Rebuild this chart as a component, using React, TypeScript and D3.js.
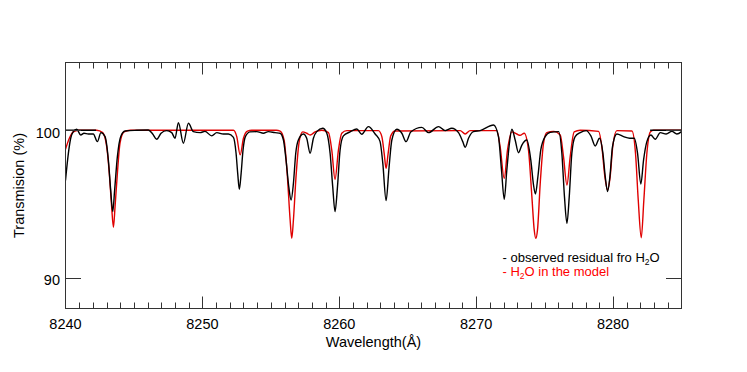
import React from "react";
import * as d3 from "d3";

// ---- data ----
const xDomain: [number, number] = [8240, 8285];
const yDomain: [number, number] = [87.91, 104.6];
const xMajorTicks = [8240, 8250, 8260, 8270, 8280];
const xMinorTicks = d3.range(8241, 8285, 1);
const yTicks = [90, 100];

// observed residual (black)
const observed: [number, number][] = [
  [8240.0, 96.6], [8240.21, 98.44], [8240.38, 99.46], [8240.57, 99.91], [8240.82, 100.07],
  [8241.11, 99.68], [8241.35, 99.8], [8241.67, 99.75], [8242.03, 99.75], [8242.33, 99.23],
  [8242.59, 99.84], [8242.89, 99.57], [8243.13, 97.99], [8243.3, 95.95], [8243.45, 94.48],
  [8243.59, 95.95], [8243.79, 98.21], [8244.03, 99.57], [8244.35, 99.95], [8245.2, 100.0],
  [8246.05, 100.02], [8246.37, 99.75], [8246.66, 99.39], [8246.98, 99.8], [8247.39, 99.98],
  [8247.76, 99.84], [8248.0, 99.46], [8248.25, 100.52], [8248.61, 99.12], [8248.98, 100.48],
  [8249.34, 99.91], [8249.83, 99.84], [8250.19, 99.93], [8250.68, 99.62], [8251.05, 99.84],
  [8251.53, 99.75], [8251.9, 99.75], [8252.27, 99.52], [8252.46, 98.44], [8252.58, 97.08],
  [8252.7, 95.99], [8252.83, 97.08], [8252.97, 98.67], [8253.14, 99.57], [8253.48, 99.89],
  [8253.97, 99.91], [8254.46, 99.8], [8254.82, 99.91], [8255.31, 99.84], [8255.68, 99.8],
  [8255.92, 99.34], [8256.11, 97.99], [8256.31, 96.18], [8256.48, 95.27], [8256.65, 96.4],
  [8256.82, 98.44], [8257.01, 99.34], [8257.38, 99.75], [8257.62, 99.46], [8257.87, 98.44],
  [8258.11, 99.46], [8258.35, 99.91], [8258.79, 100.14], [8259.09, 99.8], [8259.33, 98.44],
  [8259.52, 96.18], [8259.69, 94.48], [8259.87, 96.18], [8260.06, 98.67], [8260.3, 99.62],
  [8260.79, 99.89], [8261.28, 100.09], [8261.64, 99.73], [8262.13, 100.25], [8262.62, 99.75],
  [8262.98, 99.23], [8263.18, 97.76], [8263.42, 95.23], [8263.64, 97.53], [8263.84, 99.34],
  [8264.2, 100.07], [8264.57, 99.8], [8264.88, 99.23], [8265.22, 99.89], [8266.03, 100.2],
  [8266.52, 99.84], [8267.25, 100.25], [8267.73, 99.98], [8268.22, 100.14], [8268.71, 99.84],
  [8269.02, 99.23], [8269.2, 98.85], [8269.44, 99.46], [8269.8, 99.91], [8270.29, 99.98],
  [8271.27, 100.36], [8271.63, 99.57], [8271.85, 97.31], [8272.05, 95.32], [8272.24, 97.31],
  [8272.43, 99.12], [8272.61, 100.07], [8272.85, 99.34], [8273.09, 98.48], [8273.34, 99.0],
  [8273.7, 99.34], [8273.99, 97.99], [8274.19, 96.29], [8274.33, 95.68], [8274.51, 96.86],
  [8274.72, 98.67], [8275.04, 99.57], [8275.41, 99.86], [8276.02, 99.91], [8276.26, 98.44],
  [8276.45, 95.5], [8276.63, 93.69], [8276.8, 95.5], [8276.99, 98.44], [8277.23, 99.57],
  [8277.6, 99.84], [8278.04, 99.98], [8278.38, 99.62], [8278.7, 98.94], [8279.01, 99.46],
  [8279.26, 98.44], [8279.43, 96.86], [8279.6, 95.84], [8279.77, 96.86], [8279.96, 98.89],
  [8280.28, 99.75], [8280.77, 99.57], [8281.21, 99.46], [8281.55, 99.46], [8281.79, 98.44],
  [8282.03, 96.36], [8282.23, 97.99], [8282.47, 99.23], [8282.76, 99.68], [8283.08, 99.39],
  [8283.45, 99.84], [8283.88, 99.75], [8284.3, 99.93], [8284.66, 99.75], [8285.0, 99.91],
];

// H2O model (red)
const model: [number, number][] = [
  [8240.0, 98.71], [8240.28, 99.46], [8240.57, 99.89], [8240.94, 100], [8242.28, 100],
  [8242.72, 99.84], [8243.01, 98.89], [8243.2, 97.08], [8243.37, 94.82], [8243.5, 93.42],
  [8243.62, 94.82], [8243.79, 97.08], [8243.98, 99.12], [8244.28, 99.89], [8244.71, 100],
  [8252.27, 100], [8252.51, 99.57], [8252.76, 98.33], [8253.0, 99.46], [8253.29, 99.95],
  [8253.6, 100], [8255.4, 100], [8255.68, 99.95], [8255.97, 99.34], [8256.21, 96.86],
  [8256.41, 93.91], [8256.53, 92.67], [8256.65, 93.91], [8256.84, 96.86], [8257.09, 99.34],
  [8257.33, 99.89], [8257.62, 99.8], [8257.87, 99.68], [8258.23, 99.89], [8258.72, 100],
  [8259.21, 99.84], [8259.45, 98.67], [8259.69, 96.67], [8259.94, 98.67], [8260.18, 99.8],
  [8260.55, 99.98], [8262.86, 99.98], [8263.11, 99.57], [8263.28, 98.44], [8263.42, 97.42],
  [8263.57, 98.44], [8263.76, 99.62], [8264.08, 99.95], [8268.83, 99.98], [8269.2, 99.75],
  [8269.56, 99.98], [8271.51, 99.98], [8271.75, 98.89], [8272.05, 96.74], [8272.29, 98.67],
  [8272.61, 99.89], [8272.97, 99.75], [8273.21, 99.66], [8273.51, 99.8], [8273.82, 98.67],
  [8274.07, 95.5], [8274.24, 93.24], [8274.36, 92.67], [8274.48, 93.24], [8274.68, 96.4],
  [8274.92, 99.12], [8275.16, 99.84], [8275.65, 99.93], [8276.14, 99.68], [8276.38, 98.21],
  [8276.63, 96.29], [8276.87, 98.21], [8277.16, 99.89], [8277.6, 100], [8278.94, 99.93],
  [8279.18, 98.89], [8279.4, 96.86], [8279.6, 95.95], [8279.79, 96.86], [8279.99, 99.0],
  [8280.28, 99.98], [8281.38, 99.95], [8281.64, 98.44], [8281.84, 95.27], [8282.06, 92.71],
  [8282.25, 95.27], [8282.47, 98.44], [8282.72, 99.89], [8282.96, 100], [8285.0, 100],
];

// flat continuum pieces (black) at the two edges
const continuumLeft: [number, number][] = [[8240, 100], [8242.23, 100]];
const continuumRight: [number, number][] = [[8282.71, 100], [8285, 100]];

const legendObserved = ["- observed residual fro H", "2", "O"];
const legendModel = ["- H", "2", "O in the model"];

// ---- layout ----
const W = 747;
const H = 372;
const L = 65.5, R = 681.5, T = 62.5, B = 308.5;
const FONT = "'Liberation Sans', Arial, Helvetica, sans-serif";
const RED = "#e00000";

export default function App() {
  const x = d3.scaleLinear().domain(xDomain).range([L, R]);
  const y = d3.scaleLinear().domain(yDomain).range([B, T]);
  const line = d3
    .line<[number, number]>()
    .x((d) => x(d[0]))
    .y((d) => y(d[1]))
    .curve(d3.curveMonotoneX);
  const flat = d3
    .line<[number, number]>()
    .x((d) => x(d[0]))
    .y((d) => y(d[1]));

  const axisColor = "#333";

  return (
    <svg
      width={W}
      height={H}
      style={{ position: "absolute", left: 0, top: 0, background: "#fff" }}
      fontFamily={FONT}
    >
      <defs>
        <clipPath id="plotClip">
          <rect x={L} y={T} width={R - L} height={B - T} />
        </clipPath>
      </defs>
      <g clipPath="url(#plotClip)">
        <path d={line(model) || ""} fill="none" stroke={RED} strokeWidth={1.4} />
        <path d={flat(continuumLeft) || ""} fill="none" stroke="#000" strokeWidth={1.4} />
        <path d={flat(continuumRight) || ""} fill="none" stroke="#000" strokeWidth={1.4} />
        <path d={line(observed) || ""} fill="none" stroke="#000" strokeWidth={1.4} />
      </g>

      {/* frame */}
      <rect x={L} y={T} width={R - L} height={B - T} fill="none" stroke={axisColor} strokeWidth={1} />

      {/* x ticks */}
      {xMinorTicks.map((v) => {
        const major = xMajorTicks.includes(v);
        const len = major ? 12 : 6;
        const px = Math.round(x(v)) + 0.5;
        return (
          <g key={"xt" + v}>
            <line x1={px} x2={px} y1={B} y2={B - len} stroke={axisColor} strokeWidth={1} />
            <line x1={px} x2={px} y1={T} y2={T + len} stroke={axisColor} strokeWidth={1} />
          </g>
        );
      })}
      {xMajorTicks.map((v) => (
        <text key={"xl" + v} x={x(v)} y={329} fontSize={14.5} textAnchor="middle" fill="#000">
          {v}
        </text>
      ))}

      {/* y ticks */}
      {yTicks.map((v) => {
        const py = Math.round(y(v)) + 0.5;
        return (
          <g key={"yt" + v}>
            <line x1={L} x2={L + 15.5} y1={py} y2={py} stroke={axisColor} strokeWidth={1} />
            <line x1={R} x2={R - 15.5} y1={py} y2={py} stroke={axisColor} strokeWidth={1} />
            <text x={60} y={y(v) + 7.5} fontSize={14.5} textAnchor="end" fill="#000">
              {v}
            </text>
          </g>
        );
      })}

      {/* axis titles */}
      <text x={(L + R) / 2} y={347} fontSize={14.5} textAnchor="middle" fill="#000">
        Wavelength(Å)
      </text>
      <text
        transform={`translate(24, ${(T + B) / 2}) rotate(-90)`}
        fontSize={14.5}
        textAnchor="middle"
        fill="#000"
      >
        Transmision (%)
      </text>

      {/* legend */}
      <text x={502.5} y={262.3} fontSize={13} fill="#000">
        {legendObserved[0]}
        <tspan fontSize={8.5} dy={2.7}>{legendObserved[1]}</tspan>
        <tspan dy={-2.7}>{legendObserved[2]}</tspan>
      </text>
      <text x={502.5} y={275.8} fontSize={13} fill="#ff0000">
        {legendModel[0]}
        <tspan fontSize={8.5} dy={2.7}>{legendModel[1]}</tspan>
        <tspan dy={-2.7}>{legendModel[2]}</tspan>
      </text>
    </svg>
  );
}
